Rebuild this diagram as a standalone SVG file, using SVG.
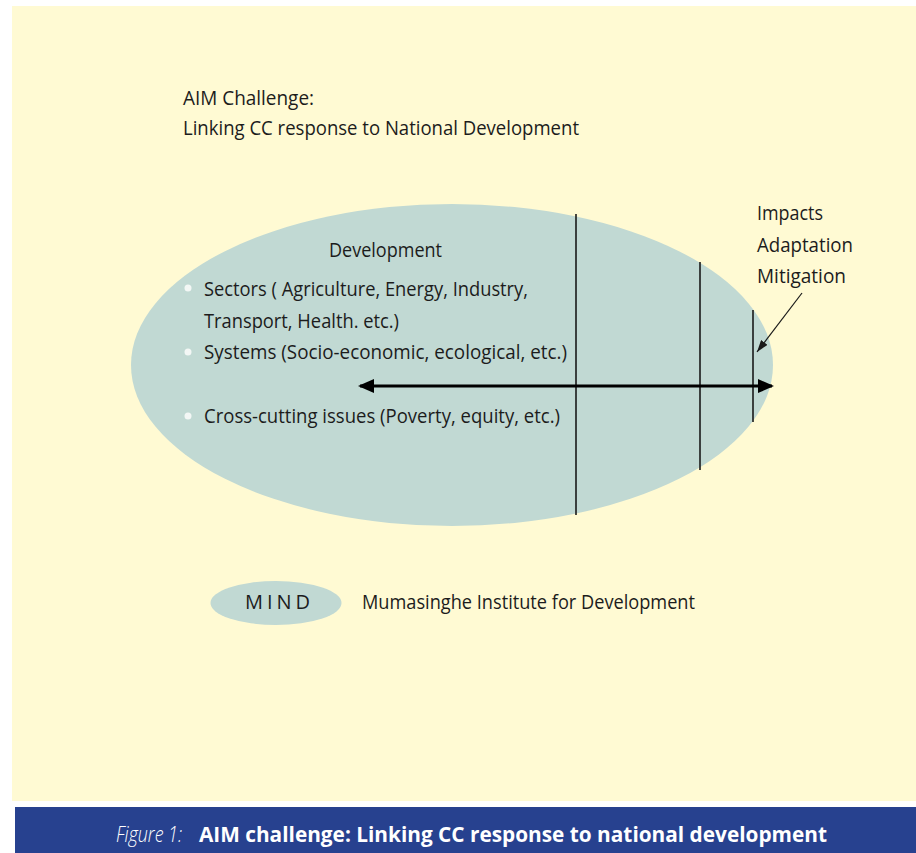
<svg xmlns="http://www.w3.org/2000/svg" width="916" height="853" viewBox="0 0 916 853">
  <defs>
    <style>
      .bg { fill: #fffad3; }
      .band { fill: #27418f; }
      .blob { fill: #c1d9d3; }
      .t { font-family: "Open Sans", "Liberation Sans", sans-serif; font-size: 20px; fill: #1c1c1c; }
      .cap { font-family: "Open Sans", "Liberation Sans", sans-serif; font-size: 22px; fill: #ffffff; }
      .capb { font-weight: bold; }
      .capi { font-style: italic; font-weight: 300; }
      .bul { fill: #f3f7f5; }
      .rule { stroke: #1a1a1a; stroke-width: 1.6; fill: none; }
      .axis { stroke: #000000; stroke-width: 3; fill: none; }
      .lead { stroke: #1a1a1a; stroke-width: 1.2; fill: none; }
    </style>
    <marker id="headBig" viewBox="0 0 16 14" refX="14" refY="7" markerWidth="16" markerHeight="14" markerUnits="userSpaceOnUse" orient="auto-start-reverse">
      <path d="M0,0 L16,7 L0,14 z" fill="#000000"/>
    </marker>
    <marker id="headSmall" viewBox="0 0 12 8" refX="12" refY="4" markerWidth="12" markerHeight="8" markerUnits="userSpaceOnUse" orient="auto">
      <path d="M0,0 L12,4 L0,8 z" fill="#1a1a1a"/>
    </marker>
  </defs>

  <!-- page background -->
  <rect class="bg" x="12" y="6" width="904" height="795"/>

  <!-- heading -->
  <g id="heading">
    <text class="t" x="183" y="105" textLength="131" lengthAdjust="spacingAndGlyphs">AIM Challenge:</text>
    <text class="t" x="183" y="135" textLength="396" lengthAdjust="spacingAndGlyphs">Linking CC response to National Development</text>
  </g>

  <!-- development field -->
  <g id="development">
    <ellipse class="blob" cx="452" cy="365" rx="321" ry="161"/>
    <text class="t" x="329" y="257" textLength="113" lengthAdjust="spacingAndGlyphs">Development</text>
    <circle class="bul" cx="188" cy="288" r="3.5"/>
    <text class="t" x="204" y="296" textLength="324" lengthAdjust="spacingAndGlyphs">Sectors ( Agriculture, Energy, Industry,</text>
    <text class="t" x="204" y="328" textLength="195" lengthAdjust="spacingAndGlyphs">Transport, Health. etc.)</text>
    <circle class="bul" cx="188" cy="352" r="3.5"/>
    <text class="t" x="204" y="359" textLength="363" lengthAdjust="spacingAndGlyphs">Systems (Socio-economic, ecological, etc.)</text>
    <circle class="bul" cx="188" cy="416" r="3.5"/>
    <text class="t" x="204" y="423" textLength="356" lengthAdjust="spacingAndGlyphs">Cross-cutting issues (Poverty, equity, etc.)</text>
  </g>

  <!-- response label -->
  <g id="response">
    <text class="t" x="757" y="220" textLength="66" lengthAdjust="spacingAndGlyphs">Impacts</text>
    <text class="t" x="757" y="252" textLength="96" lengthAdjust="spacingAndGlyphs">Adaptation</text>
    <text class="t" x="757" y="283" textLength="89" lengthAdjust="spacingAndGlyphs">Mitigation</text>
  </g>

  <!-- legend -->
  <g id="legend">
    <ellipse class="blob" cx="276" cy="603" rx="65.5" ry="22"/>
    <text class="t" x="245" y="609" textLength="65" lengthAdjust="spacing">M I N D</text>
    <text class="t" x="362" y="609" textLength="333" lengthAdjust="spacingAndGlyphs">Mumasinghe Institute for Development</text>
  </g>

  <!-- connectors -->
  <g id="connectors">
    <line class="rule" x1="576" y1="214" x2="576" y2="515"/>
    <line class="rule" x1="700" y1="262" x2="700" y2="470"/>
    <line class="rule" x1="753" y1="310" x2="753" y2="422"/>
    <line class="axis" x1="360" y1="386" x2="772" y2="386" marker-start="url(#headBig)" marker-end="url(#headBig)"/>
    <line class="lead" x1="802" y1="293" x2="757" y2="352" marker-end="url(#headSmall)"/>
  </g>

  <!-- caption band -->
  <g id="caption">
    <rect class="band" x="15" y="807" width="901" height="46"/>
    <text class="cap capi" x="116" y="842" textLength="66" lengthAdjust="spacingAndGlyphs">Figure 1:</text>
    <text class="cap capb" x="199" y="842" textLength="628" lengthAdjust="spacingAndGlyphs">AIM challenge: Linking CC response to national development</text>
  </g>
</svg>
